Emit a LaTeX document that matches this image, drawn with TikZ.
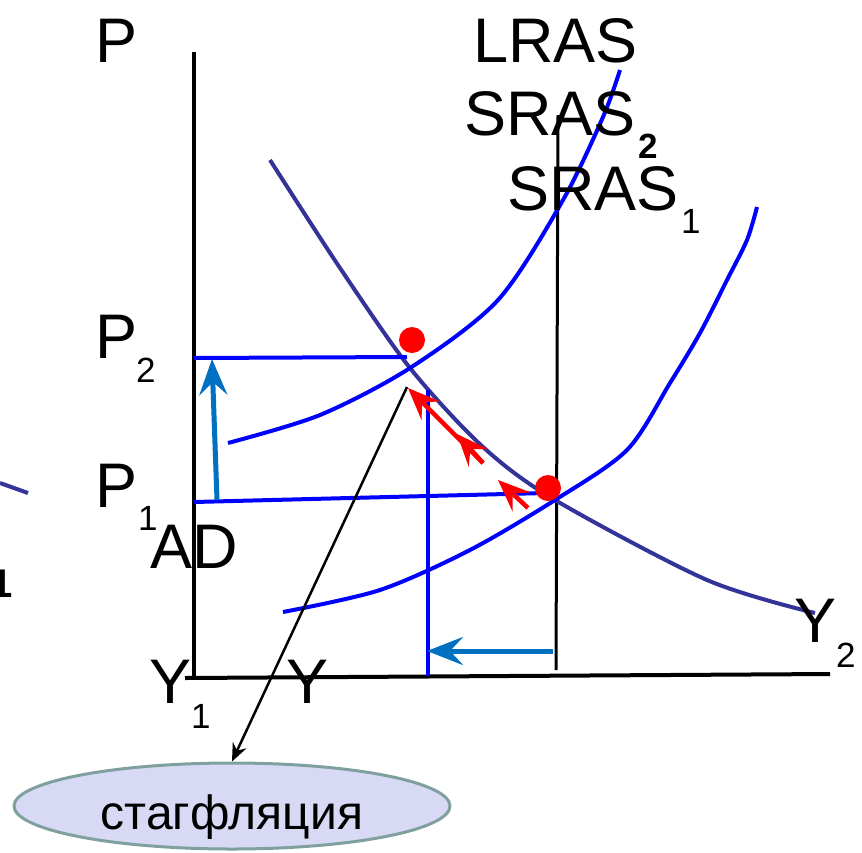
\documentclass[tikz,border=0pt]{standalone}
\usepackage{fontspec}
\setmainfont{Liberation Sans}
\usetikzlibrary{arrows.meta,shapes.geometric}

\definecolor{adblue}{RGB}{51,51,153}
\definecolor{srasblue}{RGB}{0,0,255}
\definecolor{shiftblue}{RGB}{0,112,192}
\definecolor{stagfill}{RGB}{216,218,245}
\definecolor{stagline}{RGB}{128,160,160}

\begin{document}
\begin{tikzpicture}[x=1pt,y=-1pt,>=Latex,
  lbl/.style={inner sep=0pt,anchor=base west,font=\fontsize{63}{63}\selectfont},
  sub/.style={inner sep=0pt,anchor=base west,font=\fontsize{35}{35}\selectfont},
  axis/.style={line width=4pt},
  adcurve/.style={adblue,line width=4pt},
  srascurve/.style={srasblue,line width=4pt},
  level/.style={srasblue,line width=4pt},
  shiftarrow/.style={shiftblue,line width=5pt,
    -{Stealth[length=36pt,width=28pt,inset=13pt]}},
  movearrow/.style={red,line width=4.5pt,
    -{Stealth[length=32pt,width=26pt,inset=12pt]}},
  dot/.style={circle,fill=red,inner sep=0pt,minimum size=26pt}]
\useasboundingbox (0,0) rectangle (862,852);

% axes and LRAS
\coordinate (origin) at (194,678);
\coordinate (ptop) at (194,52);
\coordinate (yend) at (830,674);
\draw[axis] (ptop) -- (origin);
\draw[axis] (185,678) -- (yend);
\coordinate (lrastop) at (558,115);
\coordinate (lrasbot) at (556,670);
\draw[line width=3pt] (lrastop) -- (lrasbot);

% AD and SRAS curves
\draw[adcurve] plot[smooth] coordinates {(270,160) (340,268) (410,368) (483,447)
  (555,500) (707,580) (815,613)};
\draw[adcurve] (0,483) -- (28,493);
\draw[srascurve] plot[smooth] coordinates {(228,443) (320,415) (410,368) (498,300)
  (563,200) (603,117) (620,70)};
\draw[srascurve] plot[smooth] coordinates {(283,612) (380,590) (470,550) (555,500)
  (627,450) (670,383) (700,333) (727,280) (747,240) (757,207)};

% price and output levels
\coordinate (p2l) at (194,358);
\coordinate (p2r) at (407,357);
\coordinate (p1l) at (194,502);
\coordinate (p1r) at (545,493);
\coordinate (y2top) at (428,390);
\coordinate (y2bot) at (428,676);
\draw[level] (p2l) -- (p2r);
\draw[level] (p1l) -- (p1r);
\draw[level] (y2top) -- (y2bot);

% shifts
\coordinate (upfrom) at (217,500);
\coordinate (upto) at (212,359);
\coordinate (leftfrom) at (553,651);
\coordinate (leftto) at (427,651);
\draw[shiftarrow] (upfrom) -- (upto);
\draw[shiftarrow] (leftfrom) -- (leftto);

% equilibria
\node[dot] (e2) at (412,340) {};
\node[dot] (e1) at (548,488) {};
\coordinate (m1from) at (483,463);
\coordinate (m1mid) at (457,434);
\coordinate (m1to) at (408,388);
\coordinate (m2from) at (528,508);
\coordinate (m2to) at (498,480);
\draw[movearrow] (m1from) -- (m1to);
\draw[movearrow] (m1from) -- (m1mid);
\draw[movearrow] (m2from) -- (m2to);

% stagflation
\node[ellipse,draw=stagline,fill=stagfill,line width=3pt,
  minimum width=436pt,minimum height=86pt,inner sep=0pt,
  text height=47pt,text depth=0pt,
  font=\fontsize{48}{48}\selectfont] (stag) at (232,806) {стагфляция};
\coordinate (stagfrom) at (407,387);
\draw[line width=2.5pt,-{Stealth[length=18pt,width=15pt,inset=6pt]}]
  (stagfrom) -- (stag.north);

% labels
\node[lbl] (plab) at (95,62) {P};
\node[lbl] (lras) at (473,62) {LRAS};
\node[lbl] (sras2) at (464,135) {SRAS};
\node[sub,font=\fontsize{35}{35}\selectfont\bfseries] (sras2i) at (638,158) {2};
\node[lbl] (sras1) at (507,210) {SRAS};
\node[sub] (sras1i) at (681,233) {1};
\node[lbl] (p2lab) at (95,358) {P};
\node[sub] (p2i) at (136,382) {2};
\node[lbl] (p1lab) at (95,507) {P};
\node[sub] (p1i) at (138,530) {1};
\node[lbl] (adlab) at (150,568) {AD};
\node[lbl] (y1lab) at (149,703) {Y};
\node[sub] (y1i) at (191,728) {1};
\node[lbl] (ylab) at (286,703) {Y};
\node[lbl] (y2lab) at (794,642) {Y};
\node[sub] (y2i) at (836,667) {2};
\node[inner sep=0pt,anchor=base east,font=\fontsize{40}{40}\selectfont\bfseries]
  (cut) at (13,597) {1};
\end{tikzpicture}
\end{document}
